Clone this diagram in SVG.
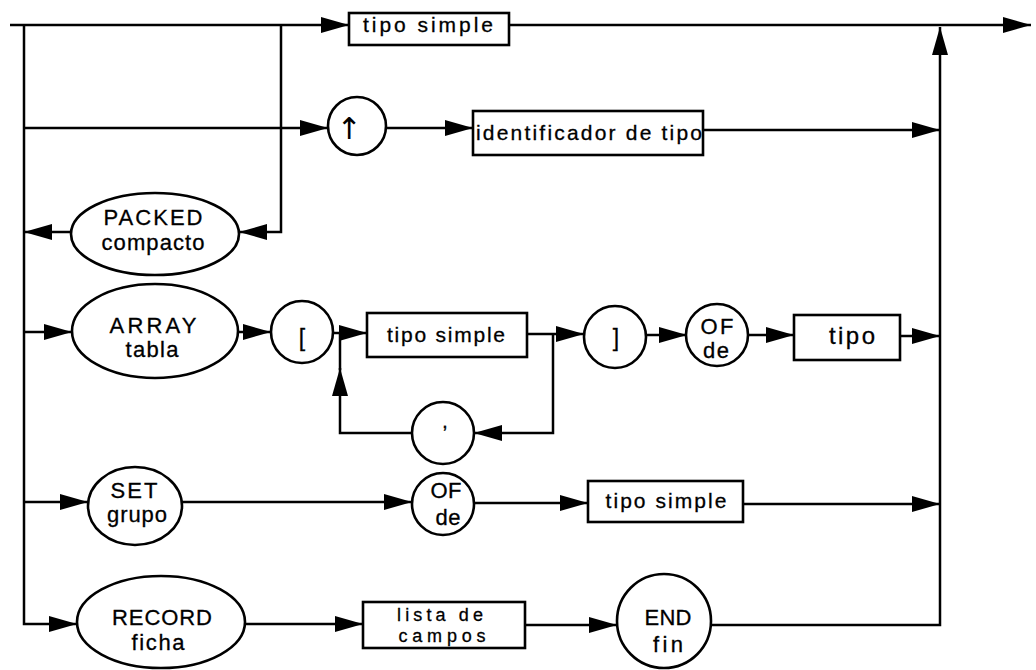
<svg xmlns="http://www.w3.org/2000/svg" width="1036" height="670" viewBox="0 0 1036 670">
<style>
.ln{fill:none;stroke:#000;stroke-width:2.5;stroke-linejoin:miter}
.ar{marker-end:url(#ah)}
.sh{fill:#fff;stroke:#000;stroke-width:2.6}
.t{font-family:"Liberation Sans",Arial,sans-serif;font-size:21px;fill:#000;stroke:#000;stroke-width:0.3;text-anchor:middle}
.k{font-size:22px}
.s{font-size:18px}
.g{font-family:"DejaVu Sans","Liberation Sans",sans-serif;stroke-width:0}
</style>
<defs>
<marker id="ah" viewBox="0 0 28 18" refX="28" refY="9" markerWidth="28" markerHeight="18" markerUnits="userSpaceOnUse" orient="auto">
<path d="M0,1 L28,9 L0,17 z" fill="#000"/>
</marker>
</defs>
<rect width="1036" height="670" fill="#fff"/>
<g id="connectors">
<path class="ln ar" d="M10,25 H349"/>
<path class="ln ar" d="M509,25 H1031"/>
<path class="ln ar" d="M24,25 V624 H77"/>
<path class="ln ar" d="M281,25 V232 H239"/>
<path class="ln ar" d="M71,232 H24"/>
<path class="ln ar" d="M24,128 H328"/>
<path class="ln ar" d="M386,128 H473"/>
<path class="ln ar" d="M703,130 H940"/>
<path class="ln ar" d="M24,332 H72"/>
<path class="ln ar" d="M238,332 H271"/>
<path class="ln ar" d="M333,333 H367"/>
<path class="ln ar" d="M527,334 H584"/>
<path class="ln ar" d="M553,334 V433 H474"/>
<path class="ln ar" d="M412,433 H340 V368"/>
<path class="ln" d="M340,370 V333"/>
<path class="ln ar" d="M646,335 H687"/>
<path class="ln ar" d="M748,335 H794"/>
<path class="ln ar" d="M900,336 H940"/>
<path class="ln ar" d="M24,502 H88"/>
<path class="ln ar" d="M182,502 H412"/>
<path class="ln ar" d="M474,503 H588"/>
<path class="ln ar" d="M743,504 H940"/>
<path class="ln ar" d="M245,624 H363"/>
<path class="ln ar" d="M525,625 H617"/>
<path class="ln ar" d="M711,625 H940 V27"/>
</g>
<g id="n-tiposimple-1">
<rect class="sh" x="349" y="13" width="160" height="32"/>
<text class="t" x="428" y="32" textLength="130" lengthAdjust="spacing">tipo simple</text>
</g>
<g id="n-puntero">
<circle class="sh" cx="357" cy="126" r="29"/>
<text class="t g" x="349" y="139" style="font-size:30px">↑</text>
</g>
<g id="n-identificador">
<rect class="sh" x="473" y="111" width="230" height="44"/>
<text class="t" x="589" y="140" textLength="226" lengthAdjust="spacing">identificador de tipo</text>
</g>
<g id="n-packed">
<ellipse class="sh" cx="155" cy="234" rx="84" ry="41"/>
<text class="t k" x="153" y="225" textLength="99" lengthAdjust="spacing">PACKED</text>
<text class="t k" x="153" y="250" textLength="103" lengthAdjust="spacing">compacto</text>
</g>
<g id="n-array">
<ellipse class="sh" cx="155" cy="331" rx="83" ry="47"/>
<text class="t k" x="153" y="333" textLength="87" lengthAdjust="spacing">ARRAY</text>
<text class="t k" x="152" y="357" textLength="53" lengthAdjust="spacing">tabla</text>
</g>
<g id="n-corchete-abre">
<circle class="sh" cx="302" cy="332" r="31"/>
<text class="t" x="302" y="346" style="font-size:23px">[</text>
</g>
<g id="n-tiposimple-2">
<rect class="sh" x="367" y="313" width="160" height="44"/>
<text class="t" x="446" y="342" textLength="118" lengthAdjust="spacing">tipo simple</text>
</g>
<g id="n-coma">
<circle class="sh" cx="443" cy="433" r="31"/>
<text class="t" x="445" y="428">,</text>
</g>
<g id="n-corchete-cierra">
<circle class="sh" cx="615" cy="337" r="31"/>
<text class="t" x="616" y="346" style="font-size:23px">]</text>
</g>
<g id="n-of-1">
<circle class="sh" cx="717" cy="335" r="31"/>
<text class="t k" x="717" y="334" textLength="33" lengthAdjust="spacing">OF</text>
<text class="t k" x="716" y="358" textLength="26" lengthAdjust="spacing">de</text>
</g>
<g id="n-tipo">
<rect class="sh" x="794" y="315" width="106" height="45"/>
<text class="t" x="852" y="344" style="font-size:24px" textLength="46" lengthAdjust="spacing">tipo</text>
</g>
<g id="n-set">
<ellipse class="sh" cx="135" cy="506" rx="47" ry="39"/>
<text class="t k" x="134" y="498" textLength="47" lengthAdjust="spacing">SET</text>
<text class="t k" x="137" y="522" textLength="60" lengthAdjust="spacing">grupo</text>
</g>
<g id="n-of-2">
<circle class="sh" cx="443" cy="504" r="31"/>
<text class="t k" x="446" y="498" textLength="31" lengthAdjust="spacing">OF</text>
<text class="t k" x="448" y="525" textLength="25" lengthAdjust="spacing">de</text>
</g>
<g id="n-tiposimple-3">
<rect class="sh" x="588" y="481" width="155" height="41"/>
<text class="t" x="666" y="508" textLength="121" lengthAdjust="spacing">tipo simple</text>
</g>
<g id="n-record">
<ellipse class="sh" cx="161" cy="622" rx="84" ry="46"/>
<text class="t k" x="162" y="625" textLength="100" lengthAdjust="spacing">RECORD</text>
<text class="t k" x="158" y="650" textLength="53" lengthAdjust="spacing">ficha</text>
</g>
<g id="n-lista">
<rect class="sh" x="363" y="602" width="162" height="46"/>
<text class="t s" x="440" y="621" textLength="86" lengthAdjust="spacing">lista de</text>
<text class="t s" x="442" y="642" textLength="87" lengthAdjust="spacing">campos</text>
</g>
<g id="n-end">
<circle class="sh" cx="664" cy="621" r="47"/>
<text class="t k" x="668" y="625" textLength="47" lengthAdjust="spacing">END</text>
<text class="t k" x="668" y="652" textLength="30" lengthAdjust="spacing">fin</text>
</g>
</svg>
